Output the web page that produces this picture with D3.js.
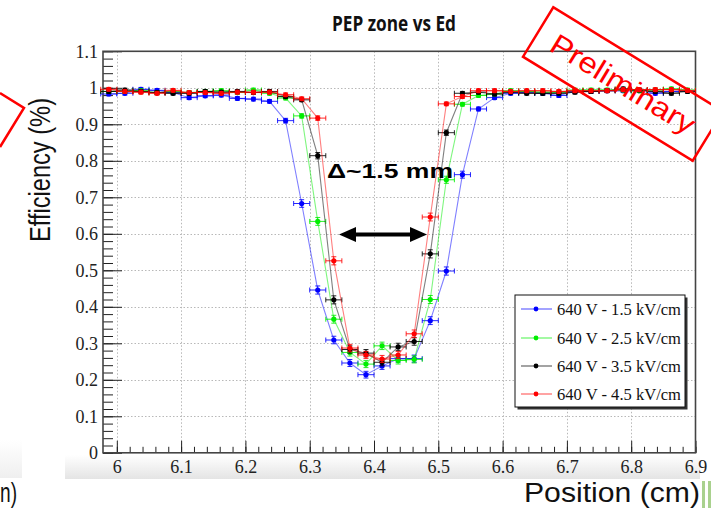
<!DOCTYPE html>
<html>
<head>
<meta charset="utf-8">
<script src="https://cdn.jsdelivr.net/npm/d3@7"></script>
<style>
  html, body { margin: 0; padding: 0; background: #fff; }
  svg { display: block; }
</style>
</head>
<body>
<svg id="chart" width="711" height="508"></svg>
<script>
// ---------- data ----------
const positions = [5.9875, 6.0125, 6.0375, 6.0625, 6.0875, 6.1125, 6.1375, 6.1625, 6.1875, 6.2125,
  6.2375, 6.2625, 6.2875, 6.3125, 6.3375, 6.3625, 6.3875, 6.4125, 6.4375, 6.4625,
  6.4875, 6.5125, 6.5375, 6.5625, 6.5875, 6.6125, 6.6375, 6.6625, 6.6875, 6.7125,
  6.7375, 6.7625, 6.7875, 6.8125, 6.8375, 6.8625, 6.8875];

const eff15 = [0.983, 0.985, 0.996, 0.993, 0.987, 0.973, 0.978, 0.980, 0.971, 0.969,
  0.963, 0.910, 0.683, 0.446, 0.309, 0.246, 0.214, 0.238, 0.258, 0.258,
  0.362, 0.498, 0.762, 0.942, 0.973, 0.985, 0.988, 0.985, 0.979, 0.990,
  0.990, 0.992, 0.992, 0.992, 0.985, 0.990, 0.992];
const eff25 = [0.990, 0.990, 0.992, 0.987, 0.990, 0.987, 0.990, 0.992, 0.987, 0.994,
  0.985, 0.972, 0.923, 0.634, 0.366, 0.275, 0.243, 0.293, 0.253, 0.256,
  0.420, 0.748, 0.955, 0.979, 0.983, 0.992, 0.990, 0.988, 0.988, 0.994,
  0.994, 0.994, 0.994, 0.992, 0.994, 0.997, 0.994];
const eff35 = [0.990, 0.994, 0.990, 0.987, 0.985, 0.985, 0.990, 0.988, 0.990, 0.987,
  0.990, 0.976, 0.967, 0.814, 0.419, 0.283, 0.273, 0.248, 0.290, 0.305,
  0.545, 0.877, 0.985, 0.988, 0.983, 0.988, 0.985, 0.985, 0.985, 0.988,
  0.990, 0.992, 0.997, 0.994, 0.990, 0.985, 0.990];
const eff45 = [0.996, 0.990, 0.988, 0.985, 0.993, 0.987, 0.987, 0.985, 0.988, 0.988,
  0.988, 0.981, 0.970, 0.917, 0.526, 0.287, 0.268, 0.257, 0.268, 0.326,
  0.646, 0.956, 0.976, 0.992, 0.992, 0.990, 0.992, 0.992, 0.990, 0.992,
  0.992, 0.992, 0.995, 0.995, 0.995, 0.995, 0.993];

const seriesNames = ["640 V - 1.5 kV/cm", "640 V - 2.5 kV/cm", "640 V - 3.5 kV/cm", "640 V - 4.5 kV/cm"];
const seriesColors = ["#0000ff", "#00ee00", "#000000", "#ff0000"];
const seriesValues = [eff15, eff25, eff35, eff45];

const binHalfWidth = 0.0125;
const eventsPerBin = 2000;

const yTicks = [0, 0.1, 0.2, 0.3, 0.4, 0.5, 0.6, 0.7, 0.8, 0.9, 1, 1.1];
const xTicks = [6, 6.1, 6.2, 6.3, 6.4, 6.5, 6.6, 6.7, 6.8, 6.9];

// ---------- drawing ----------
const svg = d3.select("#chart");

const frame = { left: 103, right: 695.5, top: 51.3, bottom: 452.8 };
const x = d3.scaleLinear().domain([5.9785, 6.9]).range([frame.left, frame.right]);
const y = d3.scaleLinear().domain([0, 1.1]).range([frame.bottom, frame.top]);

// slide background pieces
const defs = svg.append("defs");
const grad = defs.append("linearGradient").attr("id", "band").attr("x1", 0).attr("y1", 0).attr("x2", 0).attr("y2", 1);
grad.append("stop").attr("offset", "0%").attr("stop-color", "#ffffff");
grad.append("stop").attr("offset", "100%").attr("stop-color", "#e4e4e4");
svg.append("rect").attr("x", 65).attr("y", 455).attr("width", 635).attr("height", 24).attr("fill", "url(#band)");
const grad2 = defs.append("linearGradient").attr("id", "band2").attr("x1", 0).attr("y1", 0).attr("x2", 0).attr("y2", 1);
grad2.append("stop").attr("offset", "0%").attr("stop-color", "#ffffff");
grad2.append("stop").attr("offset", "100%").attr("stop-color", "#efefef");
svg.append("rect").attr("x", 0).attr("y", 440).attr("width", 22).attr("height", 38).attr("fill", "url(#band2)");

// grid
const grid = svg.append("g").attr("stroke", "#b8b8b8").attr("stroke-width", 1).attr("stroke-dasharray", "1.5,2");
grid.selectAll("line.gx").data(xTicks.filter(t => t < 6.9)).join("line")
  .attr("x1", d => Math.round(x(d)) + 0.5).attr("x2", d => Math.round(x(d)) + 0.5)
  .attr("y1", frame.top).attr("y2", frame.bottom);
grid.selectAll("line.gy").data(yTicks.filter(t => t > 0 && t < 1.1)).join("line")
  .attr("y1", d => Math.round(y(d)) + 0.5).attr("y2", d => Math.round(y(d)) + 0.5)
  .attr("x1", frame.left).attr("x2", frame.right);

// axes (ROOT style: ticks inside)
const fmt = d => d3.format("")(+d.toFixed(1));
const yMinor = d3.range(0, 1.1001, 0.02);
const xMinor = d3.range(6, 6.9001, 0.02);

svg.append("g").attr("transform", `translate(${frame.left},0)`)
  .call(d3.axisLeft(y).tickValues(yTicks).tickSize(-19).tickPadding(5).tickFormat(fmt));
svg.append("g").attr("transform", `translate(${frame.left},0)`)
  .call(d3.axisLeft(y).tickValues(yMinor).tickSize(-10).tickFormat(""));
svg.append("g").attr("transform", `translate(0,${frame.bottom})`)
  .call(d3.axisBottom(x).tickValues(xTicks).tickSize(-12).tickPadding(7).tickFormat(fmt));
svg.append("g").attr("transform", `translate(0,${frame.bottom})`)
  .call(d3.axisBottom(x).tickValues(xMinor).tickSize(-6).tickFormat(""));

svg.selectAll(".domain").remove();
svg.selectAll(".tick line").attr("stroke", "#222").attr("stroke-width", 1);
svg.selectAll(".tick text").attr("font-family", "'Liberation Serif', 'Times New Roman', serif")
  .attr("font-size", 18).attr("fill", "#222");

// frame
svg.append("rect").attr("x", frame.left).attr("y", frame.top)
  .attr("width", frame.right - frame.left).attr("height", frame.bottom - frame.top)
  .attr("fill", "none").attr("stroke", "#444").attr("stroke-width", 1.6);

// series
const plot = svg.append("g");
seriesValues.forEach((vals, i) => {
  const col = seriesColors[i];
  const pts = positions.map((p, j) => ({ p, v: vals[j] }));
  const g = plot.append("g");
  g.append("path").datum(pts)
    .attr("d", d3.line().x(d => x(d.p)).y(d => y(d.v)))
    .attr("fill", "none").attr("stroke", col).attr("stroke-opacity", 0.5).attr("stroke-width", 1.1);
  const err = d => Math.max(0.005, Math.sqrt(d.v * (1 - d.v) / eventsPerBin));
  const eb = g.append("g").attr("stroke", col).attr("stroke-width", 1).attr("stroke-opacity", 0.85);
  pts.forEach(d => {
    const cx = x(d.p), cy = y(d.v);
    const xl = x(d.p - binHalfWidth), xr = x(d.p + binHalfWidth);
    const yt = y(d.v + err(d)), yb = y(d.v - err(d));
    eb.append("line").attr("x1", xl).attr("x2", xr).attr("y1", cy).attr("y2", cy);
    eb.append("line").attr("x1", xl).attr("x2", xl).attr("y1", cy - 2.5).attr("y2", cy + 2.5);
    eb.append("line").attr("x1", xr).attr("x2", xr).attr("y1", cy - 2.5).attr("y2", cy + 2.5);
    eb.append("line").attr("x1", cx).attr("x2", cx).attr("y1", yt).attr("y2", yb);
    eb.append("line").attr("x1", cx - 2.5).attr("x2", cx + 2.5).attr("y1", yt).attr("y2", yt);
    eb.append("line").attr("x1", cx - 2.5).attr("x2", cx + 2.5).attr("y1", yb).attr("y2", yb);
  });
  g.selectAll("circle").data(pts).join("circle")
    .attr("cx", d => x(d.p)).attr("cy", d => y(d.v)).attr("r", 2.6).attr("fill", col);
});

// legend
const leg = { x: 515, y: 295, w: 170, h: 112 };
svg.append("rect").attr("x", leg.x + 2.5).attr("y", leg.y + 2.5).attr("width", leg.w).attr("height", leg.h).attr("fill", "#333");
svg.append("rect").attr("x", leg.x).attr("y", leg.y).attr("width", leg.w).attr("height", leg.h)
  .attr("fill", "#fff").attr("stroke", "#111").attr("stroke-width", 1);
const legRows = [309, 338, 366, 394];
seriesNames.forEach((name, i) => {
  const ry = legRows[i];
  svg.append("line").attr("x1", 521).attr("x2", 552).attr("y1", ry).attr("y2", ry)
    .attr("stroke", seriesColors[i]).attr("stroke-opacity", 0.6).attr("stroke-width", 1.2);
  svg.append("circle").attr("cx", 536).attr("cy", ry).attr("r", 2.4).attr("fill", seriesColors[i]);
  svg.append("text").attr("x", 557).attr("y", ry + 5.5).text(name)
    .attr("font-family", "'Liberation Serif', 'Times New Roman', serif").attr("font-size", 16)
    .attr("textLength", 124).attr("lengthAdjust", "spacingAndGlyphs").attr("fill", "#111");
});

// annotation: arrow + text
const arrowY = 234.5;
const ax1 = 339, ax2 = 427;
svg.append("line").attr("x1", ax1 + 14).attr("x2", ax2 - 14).attr("y1", arrowY).attr("y2", arrowY)
  .attr("stroke", "#000").attr("stroke-width", 4);
svg.append("path").attr("d", `M${ax1},${arrowY} L${ax1 + 17},${arrowY - 7.5} L${ax1 + 17},${arrowY + 7.5} Z`).attr("fill", "#000");
svg.append("path").attr("d", `M${ax2},${arrowY} L${ax2 - 17},${arrowY - 7.5} L${ax2 - 17},${arrowY + 7.5} Z`).attr("fill", "#000");
svg.append("text").attr("x", 327).attr("y", 178).text("Δ~1.5 mm")
  .attr("font-family", "'Liberation Sans', Arial, sans-serif").attr("font-weight", "bold")
  .attr("font-size", 21).attr("textLength", 126).attr("lengthAdjust", "spacingAndGlyphs").attr("fill", "#000");

// title
svg.append("text").attr("x", 394).attr("y", 31).attr("text-anchor", "middle").text("PEP zone vs Ed")
  .attr("font-family", "'Open Sans', 'Liberation Sans', sans-serif").attr("font-weight", "bold")
  .attr("font-size", 22).attr("textLength", 124).attr("lengthAdjust", "spacingAndGlyphs").attr("fill", "#111");

// axis titles (slide text)
svg.append("text").attr("transform", "translate(50,170) rotate(-90)").attr("text-anchor", "middle")
  .text("Efficiency (%)")
  .attr("font-family", "'Liberation Sans', Arial, sans-serif").attr("font-size", 29)
  .attr("textLength", 144).attr("lengthAdjust", "spacingAndGlyphs").attr("fill", "#111");
svg.append("text").attr("x", 524).attr("y", 502).text("Position (cm)")
  .attr("font-family", "'Liberation Sans', Arial, sans-serif").attr("font-size", 27)
  .attr("textLength", 176).attr("lengthAdjust", "spacingAndGlyphs").attr("fill", "#111");
svg.append("text").attr("x", 0).attr("y", 502).text("n)")
  .attr("font-family", "'Liberation Sans', Arial, sans-serif").attr("font-size", 27)
  .attr("textLength", 17).attr("lengthAdjust", "spacingAndGlyphs").attr("fill", "#111");
svg.append("rect").attr("x", 702).attr("y", 481).attr("width", 3).attr("height", 27).attr("fill", "#a9d18e");
svg.append("rect").attr("x", 708).attr("y", 481).attr("width", 3).attr("height", 27).attr("fill", "#a9d18e");

// "Preliminary" stamp
const stamp = svg.append("g").attr("transform", "translate(623,84) rotate(31.5)");
stamp.append("rect").attr("x", -99.5).attr("y", -29).attr("width", 199).attr("height", 58)
  .attr("fill", "none").attr("stroke", "#ff0000").attr("stroke-width", 2.5);
stamp.append("text").attr("x", 0).attr("y", 10).attr("text-anchor", "middle").text("Preliminary")
  .attr("font-family", "'Liberation Sans', Arial, sans-serif").attr("font-size", 29)
  .attr("textLength", 164).attr("lengthAdjust", "spacingAndGlyphs").attr("fill", "#ff0000");

// left stamp fragment
svg.append("path").attr("d", "M0,93 L24,108 L0,147").attr("fill", "none")
  .attr("stroke", "#ff0000").attr("stroke-width", 2.5);
</script>
</body>
</html>
